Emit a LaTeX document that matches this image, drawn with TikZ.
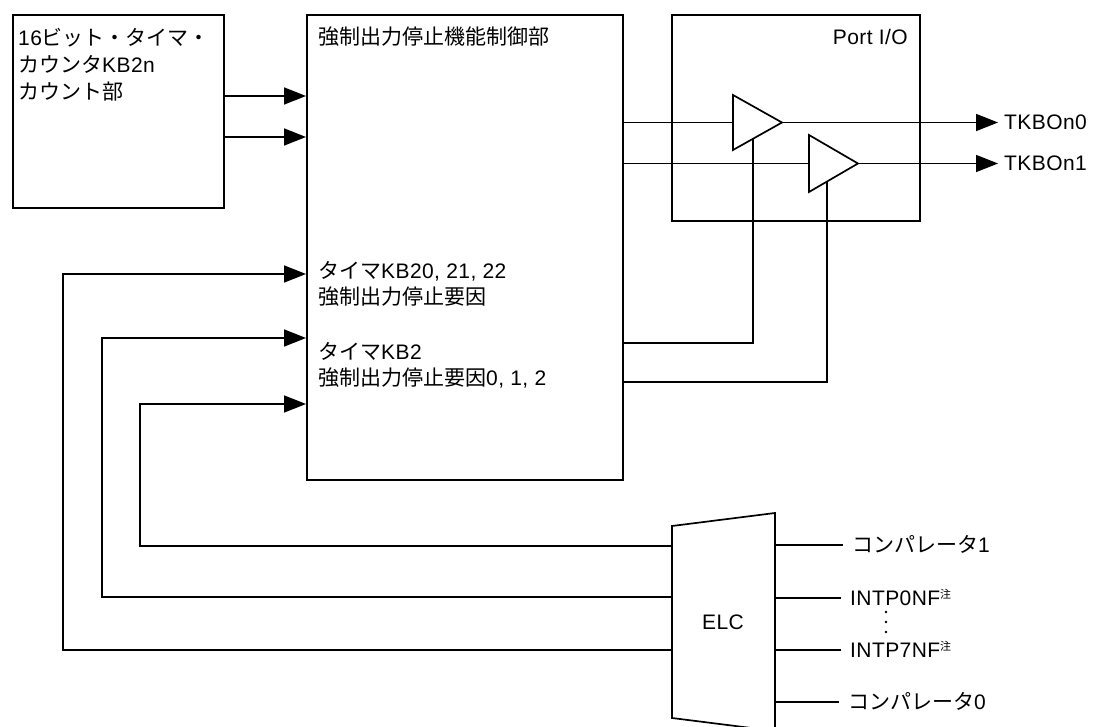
\documentclass[tikz,border=0pt]{standalone}
\usepackage{fontspec}
\setmainfont{Noto Sans CJK JP}
\newfontfamily\lat{Liberation Sans}[LetterSpace=2]
\usetikzlibrary{arrows.meta,positioning}
\newcommand{\chu}{\raisebox{7pt}{\fontsize{11}{11}\selectfont 注}}

\begin{document}
\begin{tikzpicture}[x=1pt,y=-1pt,
    box/.style={draw,line width=1.7pt,inner sep=0pt,anchor=north west},
    wire/.style={line width=1.7pt},
    arr/.style={-{Triangle[length=22pt,width=17pt]}},
    txt/.style={inner sep=0pt,text height=16pt,text depth=2pt,anchor=west,
      font=\fontsize{21}{27}\selectfont}]
  \useasboundingbox (0,0) rectangle (1096,727);

  % Blocs
  \node[box,minimum width=211pt,minimum height=193pt] (cnt) at (12,14) {};
  \node[box,minimum width=316pt,minimum height=465pt] (main) at (306,14) {};
  \node[box,minimum width=248pt,minimum height=206pt] (port) at (671,14) {};

  % Textes des blocs
  \node[txt] (cnt1) at (18,39) {{\lat 16}ビット・タイマ・};
  \node[txt] (cnt2) at (18,66) {カウンタ{\lat KB2n}};
  \node[txt] (cnt3) at (18,93) {カウント部};
  \node[txt] (title) at (318,38) {強制出力停止機能制御部};
  \node[txt,anchor=east] (porttxt) at (908,38) {{\lat Port I/O}};
  \node[txt] (src1a) at (318,272) {タイマ{\lat KB20, 21, 22}};
  \node[txt] (src1b) at (318,298) {強制出力停止要因};
  \node[txt] (src2a) at (318,353) {タイマ{\lat KB2}};
  \node[txt] (src2b) at (318,379) {強制出力停止要因{\lat 0, 1, 2}};

  % Compteur -> bloc de commande
  \foreach \y in {96,137} {
    \draw[wire,arr] (cnt.east |- 0,\y) -- (main.west |- 0,\y);
  }

  % Tampons
  \coordinate (b1in) at (733,122.5);
  \coordinate (b1out) at (782,122.5);
  \coordinate (b1en) at (753,139);
  \coordinate (b2in) at (809,163.5);
  \coordinate (b2out) at (858,163.5);
  \coordinate (b2en) at (827,181);
  \draw[wire] (733,95) -- (b1out) -- (733,150) -- cycle;
  \draw[wire] (809,135) -- (b2out) -- (809,192) -- cycle;

  % Sorties
  \node[txt] (tkbo0) at (1004,122.5) {{\lat TKBOn0}};
  \node[txt] (tkbo1) at (1004,163.5) {{\lat TKBOn1}};
  \draw[wire] (main.east |- b1in) -- (b1in);
  \draw[wire] (main.east |- b2in) -- (b2in);
  \draw[wire,arr] (b1out) -- ([xshift=-6pt]tkbo0.west);
  \draw[wire,arr] (b2out) -- ([xshift=-6pt]tkbo1.west);
  \draw[wire] (b1en) |- (main.east |- 0,343);
  \draw[wire] (b2en) |- (main.east |- 0,382);

  % ELC
  \draw[wire] (672,526) -- (775,513) -- (775,731) -- (672,718) -- cycle;
  \node[txt,anchor=center] (elc) at (723,622) {{\lat ELC}};
  \coordinate (elcL) at (672,622);
  \coordinate (elcR) at (775,622);

  % Retours vers le bloc de commande
  \foreach \x/\yin/\yel in {63/274/650, 102/338/597, 140/404/546} {
    \draw[wire,arr] (elcL |- 0,\yel) -| (\x,\yin) -- (main.west |- 0,\yin);
  }

  % Entrees de l'ELC
  \node[txt] (cmp1) at (852,545) {コンパレータ{\lat 1}};
  \node[txt] (intp0) at (850,598) {{\lat INTP0NF}\chu};
  \node[txt] (intp7) at (850,650) {{\lat INTP7NF}\chu};
  \node[txt] (cmp0) at (848,702) {コンパレータ{\lat 0}};
  \foreach \n in {cmp1,intp0,intp7,cmp0} {
    \draw[wire] (elcR |- \n.west) -- ([xshift=-9pt]\n.west);
  }
  \foreach \y in {612,622,632} {
    \fill (886,\y) circle (1.4pt);
  }
\end{tikzpicture}
\end{document}
